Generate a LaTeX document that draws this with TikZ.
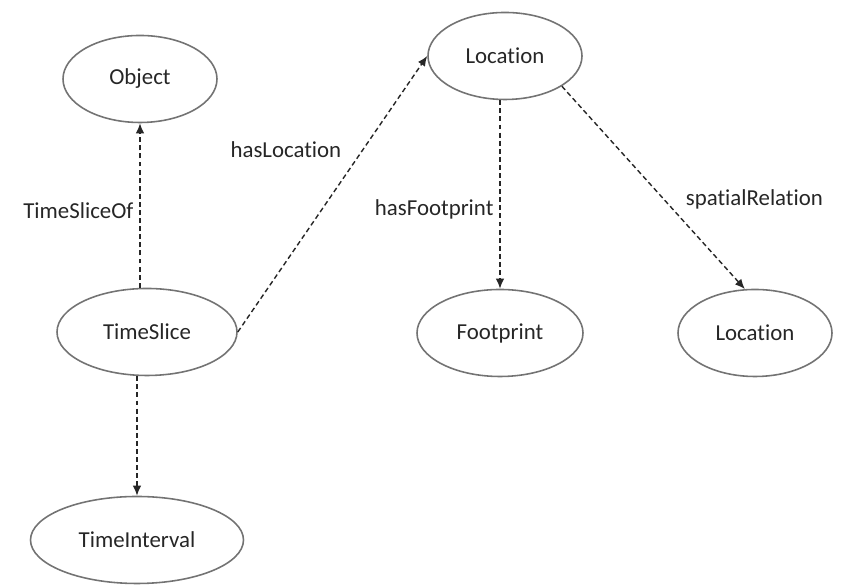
\documentclass[tikz,border=0pt]{standalone}
\usepackage{fontspec}
\setmainfont{Carlito}[Ligatures=CommonOff]
\usetikzlibrary{shapes.geometric,arrows.meta}
\newcommand*{\ontostyle}{\fontsize{13}{15}\selectfont\color{black!85}}

\begin{document}
\begin{tikzpicture}[
  concept/.style={ellipse, draw=black!55, line width=0.9pt, minimum height=1.74cm,
    inner sep=0pt, font=\ontostyle},
  relation/.style={-{Latex[length=2mm,width=1.7mm]}, dash pattern=on 2.8pt off 1.8pt,
    line width=0.8pt, black!85},
  rlabel/.style={font=\ontostyle}]
  \useasboundingbox (0,0) rectangle (16.82,11.7);
  % classes
  \foreach \name/\x/\y/\w/\text in {obj/2.80/10.12/3.08/Object, loc/10.10/10.58/3.08/Location,
      ts/2.94/5.06/3.6/TimeSlice, fp/10.00/5.04/3.32/Footprint,
      loc2/15.10/5.04/3.08/Location, ti/2.74/0.90/4.26/TimeInterval} {
    \node[concept, minimum width=\w cm] (\name) at (\x,\y) {\text};
  }
  % properties
  \draw[relation] (ts.north -| obj.south) -- node[rlabel, pos=0.47, left] {TimeSliceOf} (obj.south);
  \draw[relation] (ts.east) -- node[rlabel, pos=0.66, left=0.3cm] {hasLocation} (loc.west);
  \draw[relation] (loc.south -| fp.north) -- node[rlabel, pos=0.58, left] {hasFootprint} (fp.north);
  \draw[relation] (loc.-28) -- node[rlabel, pos=0.56, right=0.3cm] {spatialRelation} (loc2.103);
  \draw[relation] (ts.south -| ti.north) -- (ti.north);
\end{tikzpicture}
\end{document}
